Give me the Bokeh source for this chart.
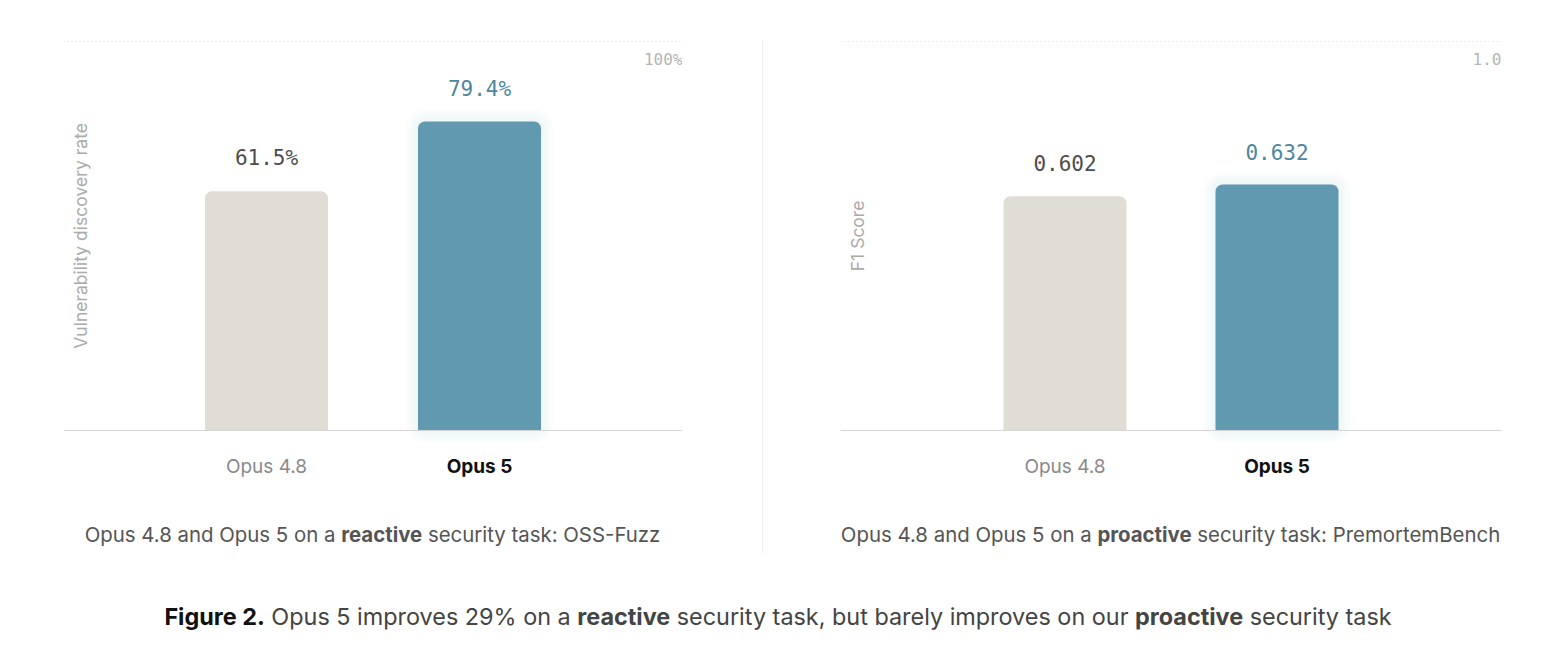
from math import pi

from bokeh.core.properties import value
from bokeh.embed import file_html
from bokeh.layouts import column, row
from bokeh.models import ColumnDataSource, Div, FactorRange, Range1d, Span
from bokeh.plotting import figure
from bokeh.resources import INLINE

# data
models = ["Opus 4.8", "Opus 5"]
fuzz_rate = [61.5, 79.4]            # OSS-Fuzz, vulnerability discovery rate (%)
fuzz_labels = ["61.5%", "79.4%"]
premortem_f1 = [0.602, 0.632]       # PremortemBench, F1 score
premortem_labels = ["0.602", "0.632"]

SANS = "Inter"
MONO = "DejaVu Sans Mono"
BAR_COLORS = ["#e0ddd5", "#6099b0"]
VALUE_COLORS = ["#4d4d4d", "#4e86a0"]
TICK_COLORS = ["#8a8a8a", "#111111"]
TICK_STYLES = ["normal", "bold"]

FRAME_H = 463
BAR_PX = 123


def bar_panel(values, labels, top, top_label, ylabel, pad, width, border_left, frame_w):
    y_range = Range1d(-0.18 * top, 1.01 * top)
    p = figure(
        x_range=FactorRange(factors=models, range_padding=pad),
        y_range=y_range,
        width=width,
        height=500,
        output_backend="svg",
        toolbar_location=None,
        x_axis_location=None,
        y_axis_location=None,
        min_border=0,
        min_border_left=border_left,
        min_border_right=width - border_left - frame_w,
        min_border_top=37,
        min_border_bottom=0,
    )
    p.xgrid.visible = False
    p.ygrid.visible = False
    p.outline_line_color = None

    x_span = len(models) + 2 * pad
    px_x = frame_w / x_span
    px_y = FRAME_H / (y_range.end - y_range.start)
    bar_w = BAR_PX / px_x

    src = ColumnDataSource(dict(
        model=models, val=values, label=labels, color=BAR_COLORS,
        vcolor=VALUE_COLORS, tcolor=TICK_COLORS, tstyle=TICK_STYLES,
    ))

    # soft glow behind the highlighted bar
    for g in (3, 6, 9, 12):
        p.vbar(x=models[1:], top=[v + g / px_y for v in values[1:]], bottom=-g / px_y,
               width=bar_w + 2 * g / px_x, fill_color="#8fbdce", fill_alpha=0.035,
               line_color=None, border_radius=7 + g)

    p.vbar(x="model", top="val", bottom=0, width=bar_w, fill_color="color",
           line_color=None, border_radius=(7, 7, 0, 0), source=src)

    p.add_layout(Span(location=top, dimension="width", line_color="#dedede",
                      line_dash="1 3", line_width=1))
    p.add_layout(Span(location=0, dimension="width", line_color="#d4d4d4", line_width=1))

    p.text(x="model", y="val", text="label", text_font=value(MONO), text_font_size="21px",
           text_color="vcolor", text_align="center", text_baseline="middle",
           y_offset=-33, source=src)
    p.text(x="model", y=0, text="model", text_font=value(SANS), text_font_size="19px",
           text_color="tcolor", text_font_style="tstyle", text_align="center",
           text_baseline="middle", y_offset=36, source=src)

    p.text(x=[len(models) + pad], y=[top], text=[top_label], text_font=value(MONO),
           text_font_size="16px", text_color="#b5b5b5", text_align="right",
           text_baseline="middle", y_offset=18)
    p.text(x=[-pad], y=[top / 2], text=[ylabel], angle=pi / 2, text_font=value(SANS),
           text_font_size="17.5px", text_color="#ababab", text_align="center",
           text_baseline="middle", x_offset=17)
    return p


def subtitle(html, width, border_left, frame_w):
    return Div(
        text=(f'<div style="margin-left:{border_left}px;width:{frame_w}px;padding-top:21px;'
              f'text-align:center;font-family:Inter;font-size:20.4px;line-height:28px;'
              f'color:#555555;white-space:nowrap">{html}</div>'),
        width=width, height=70, margin=0,
    )


p1 = bar_panel(fuzz_rate, fuzz_labels, 100, "100%", "Vulnerability discovery rate",
               0.453, 762, 63, 619)
p2 = bar_panel(premortem_f1, premortem_labels, 1.0, "1.0", "F1 Score",
               0.559, 793, 77, 661)

sub1 = subtitle("Opus 4.8 and Opus 5 on a <b>reactive</b> security task: OSS-Fuzz", 762, 63, 619)
sub2 = subtitle("Opus 4.8 and Opus 5 on a <b>proactive</b> security task: PremortemBench", 793, 77, 661)

divider = Div(text='<div style="width:1px;height:513px;margin-top:40px;background:#efefef"></div>',
              width=1, height=570, margin=0)

caption = Div(
    text=('<div style="width:1556px;padding-top:32px;text-align:center;font-family:Inter;'
          'font-size:23.4px;line-height:30px;color:#444444;white-space:nowrap">'
          '<b style="color:#111111">Figure 2.</b> Opus 5 improves 29% on a <b>reactive</b> '
          'security task, but barely improves on our <b>proactive</b> security task</div>'),
    width=1556, height=90, margin=0,
)

layout = column(row(column(p1, sub1), divider, column(p2, sub2)), caption)

open("out.html", "w").write(file_html(layout, INLINE))
